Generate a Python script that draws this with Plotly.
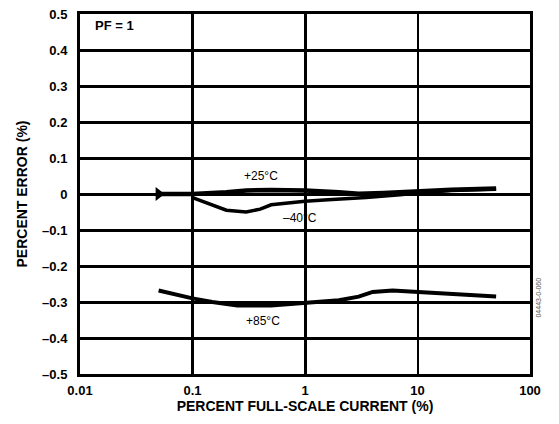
import math
import plotly.graph_objects as go

# ---- data ----
x_25 = [0.05, 0.07, 0.1, 0.2, 0.3, 0.5, 1, 2, 3, 5, 10, 20, 50]
y_25 = [0.0, 0.0, 0.0, 0.005, 0.01, 0.011, 0.01, 0.005, 0.001, 0.003, 0.008, 0.012, 0.015]

x_m40 = [0.1, 0.15, 0.2, 0.3, 0.4, 0.5, 0.7, 1, 1.6, 2.5, 3.5, 7, 10, 20, 50]
y_m40 = [-0.01, -0.03, -0.045, -0.05, -0.042, -0.03, -0.025, -0.02, -0.016, -0.013, -0.01, -0.002, 0.003, 0.01, 0.013]

x_85 = [0.05, 0.07, 0.1, 0.15, 0.25, 0.5, 1, 2, 3, 4, 6, 10, 20, 50]
y_85 = [-0.268, -0.28, -0.29, -0.30, -0.31, -0.31, -0.302, -0.295, -0.285, -0.272, -0.268, -0.272, -0.28, -0.285]

x_tickvals = [0.01, 0.1, 1, 10, 100]
x_ticktext = ["0.01", "0.1", "1", "10", "100"]
y_tickvals = [0.5, 0.4, 0.3, 0.2, 0.1, 0, -0.1, -0.2, -0.3, -0.4, -0.5]
y_ticktext = ["0.5", "0.4", "0.3", "0.2", "0.1", "0", "–0.1", "–0.2", "–0.3", "–0.4", "–0.5"]

labels = [("+25°C", 0.41, 0.05), ("–40°C", 0.9, -0.067), ("+85°C", 0.42, -0.353)]

FONT = "Liberation Sans, Arial, sans-serif"

fig = go.Figure()
fig.add_trace(go.Scatter(x=x_85, y=y_85, mode="lines",
                         line=dict(color="black", width=4), showlegend=False))
fig.add_trace(go.Scatter(x=x_m40, y=y_m40, mode="lines",
                         line=dict(color="black", width=3.5), showlegend=False))
marker_sizes = [12] + [0] * (len(x_25) - 1)
fig.add_trace(go.Scatter(x=x_25, y=y_25, mode="lines+markers",
                         line=dict(color="black", width=4.5),
                         marker=dict(symbol="triangle-right", size=marker_sizes, color="#000000",
                                     opacity=1, line=dict(width=0)),
                         showlegend=False))
# overlay axes for tick labels and the thinner 10% gridline
fig.add_trace(go.Scatter(x=[None], y=[None], xaxis="x2", showlegend=False, hoverinfo="skip"))
fig.add_trace(go.Scatter(x=[None], y=[None], xaxis="x3", showlegend=False, hoverinfo="skip"))

for text, xv, yv in labels:
    fig.add_annotation(x=math.log10(xv), y=yv, xref="x", yref="y", text=text,
                       showarrow=False, font=dict(family=FONT, size=12, color="black"))

fig.add_annotation(x=math.log10(0.013), y=0.5 - 0.033, xref="x", yref="y", text="PF = 1",
                   showarrow=False, xanchor="left", yanchor="middle",
                   font=dict(family=FONT, size=13, color="black", weight="bold"))

fig.add_annotation(x=1.029, y=0.15, xref="paper", yref="paper", text="04443-0-060",
                   textangle=-90, showarrow=False,
                   font=dict(family=FONT, size=7, color="#555555"))

# the page body adds an 8px margin, so the figure is 8px smaller and shifted
fig.update_layout(
    width=551, height=416,
    margin=dict(l=72, r=29, t=6, b=50),
    paper_bgcolor="white", plot_bgcolor="white",
    font=dict(family=FONT, color="black"),
    xaxis=dict(type="log", range=[-2, 2], tickvals=[0.1, 1], ticktext=["0.1", "1"],
               showgrid=True, gridcolor="black", gridwidth=3, automargin=False,
               showline=True, linecolor="black", linewidth=3, mirror=True,
               ticks="", showticklabels=False, zeroline=False),
    xaxis2=dict(type="log", range=[-2, 2], overlaying="x", matches="x",
                tickvals=x_tickvals, ticktext=x_ticktext, side="bottom",
                showgrid=False, ticks="", ticklabelstandoff=7, automargin=False,
                ticklabeloverflow="allow",
                tickfont=dict(family=FONT, size=13, color="black", weight="bold"),
                title=dict(text="PERCENT FULL-SCALE CURRENT (%)", standoff=4,
                           font=dict(family=FONT, size=14, color="black", weight="bold"))),
    xaxis3=dict(type="log", range=[-2, 2], overlaying="x", matches="x",
                tickvals=[10], showgrid=True, gridcolor="black", gridwidth=1.5,
                automargin=False, showticklabels=False, ticks="", showline=False,
                zeroline=False),
    yaxis=dict(range=[-0.5, 0.5], tickvals=y_tickvals, ticktext=y_ticktext,
               showgrid=True, gridcolor="black", gridwidth=3, automargin=False,
               showline=True, linecolor="black", linewidth=3, mirror=True,
               ticks="", ticklabelstandoff=7, zeroline=False,
               ticklabeloverflow="allow",
               tickfont=dict(family=FONT, size=13, color="black", weight="bold"),
               title=dict(text="PERCENT ERROR (%)", standoff=12,
                          font=dict(family=FONT, size=14, color="black", weight="bold"))),
)

fig.write_html("out.html")
